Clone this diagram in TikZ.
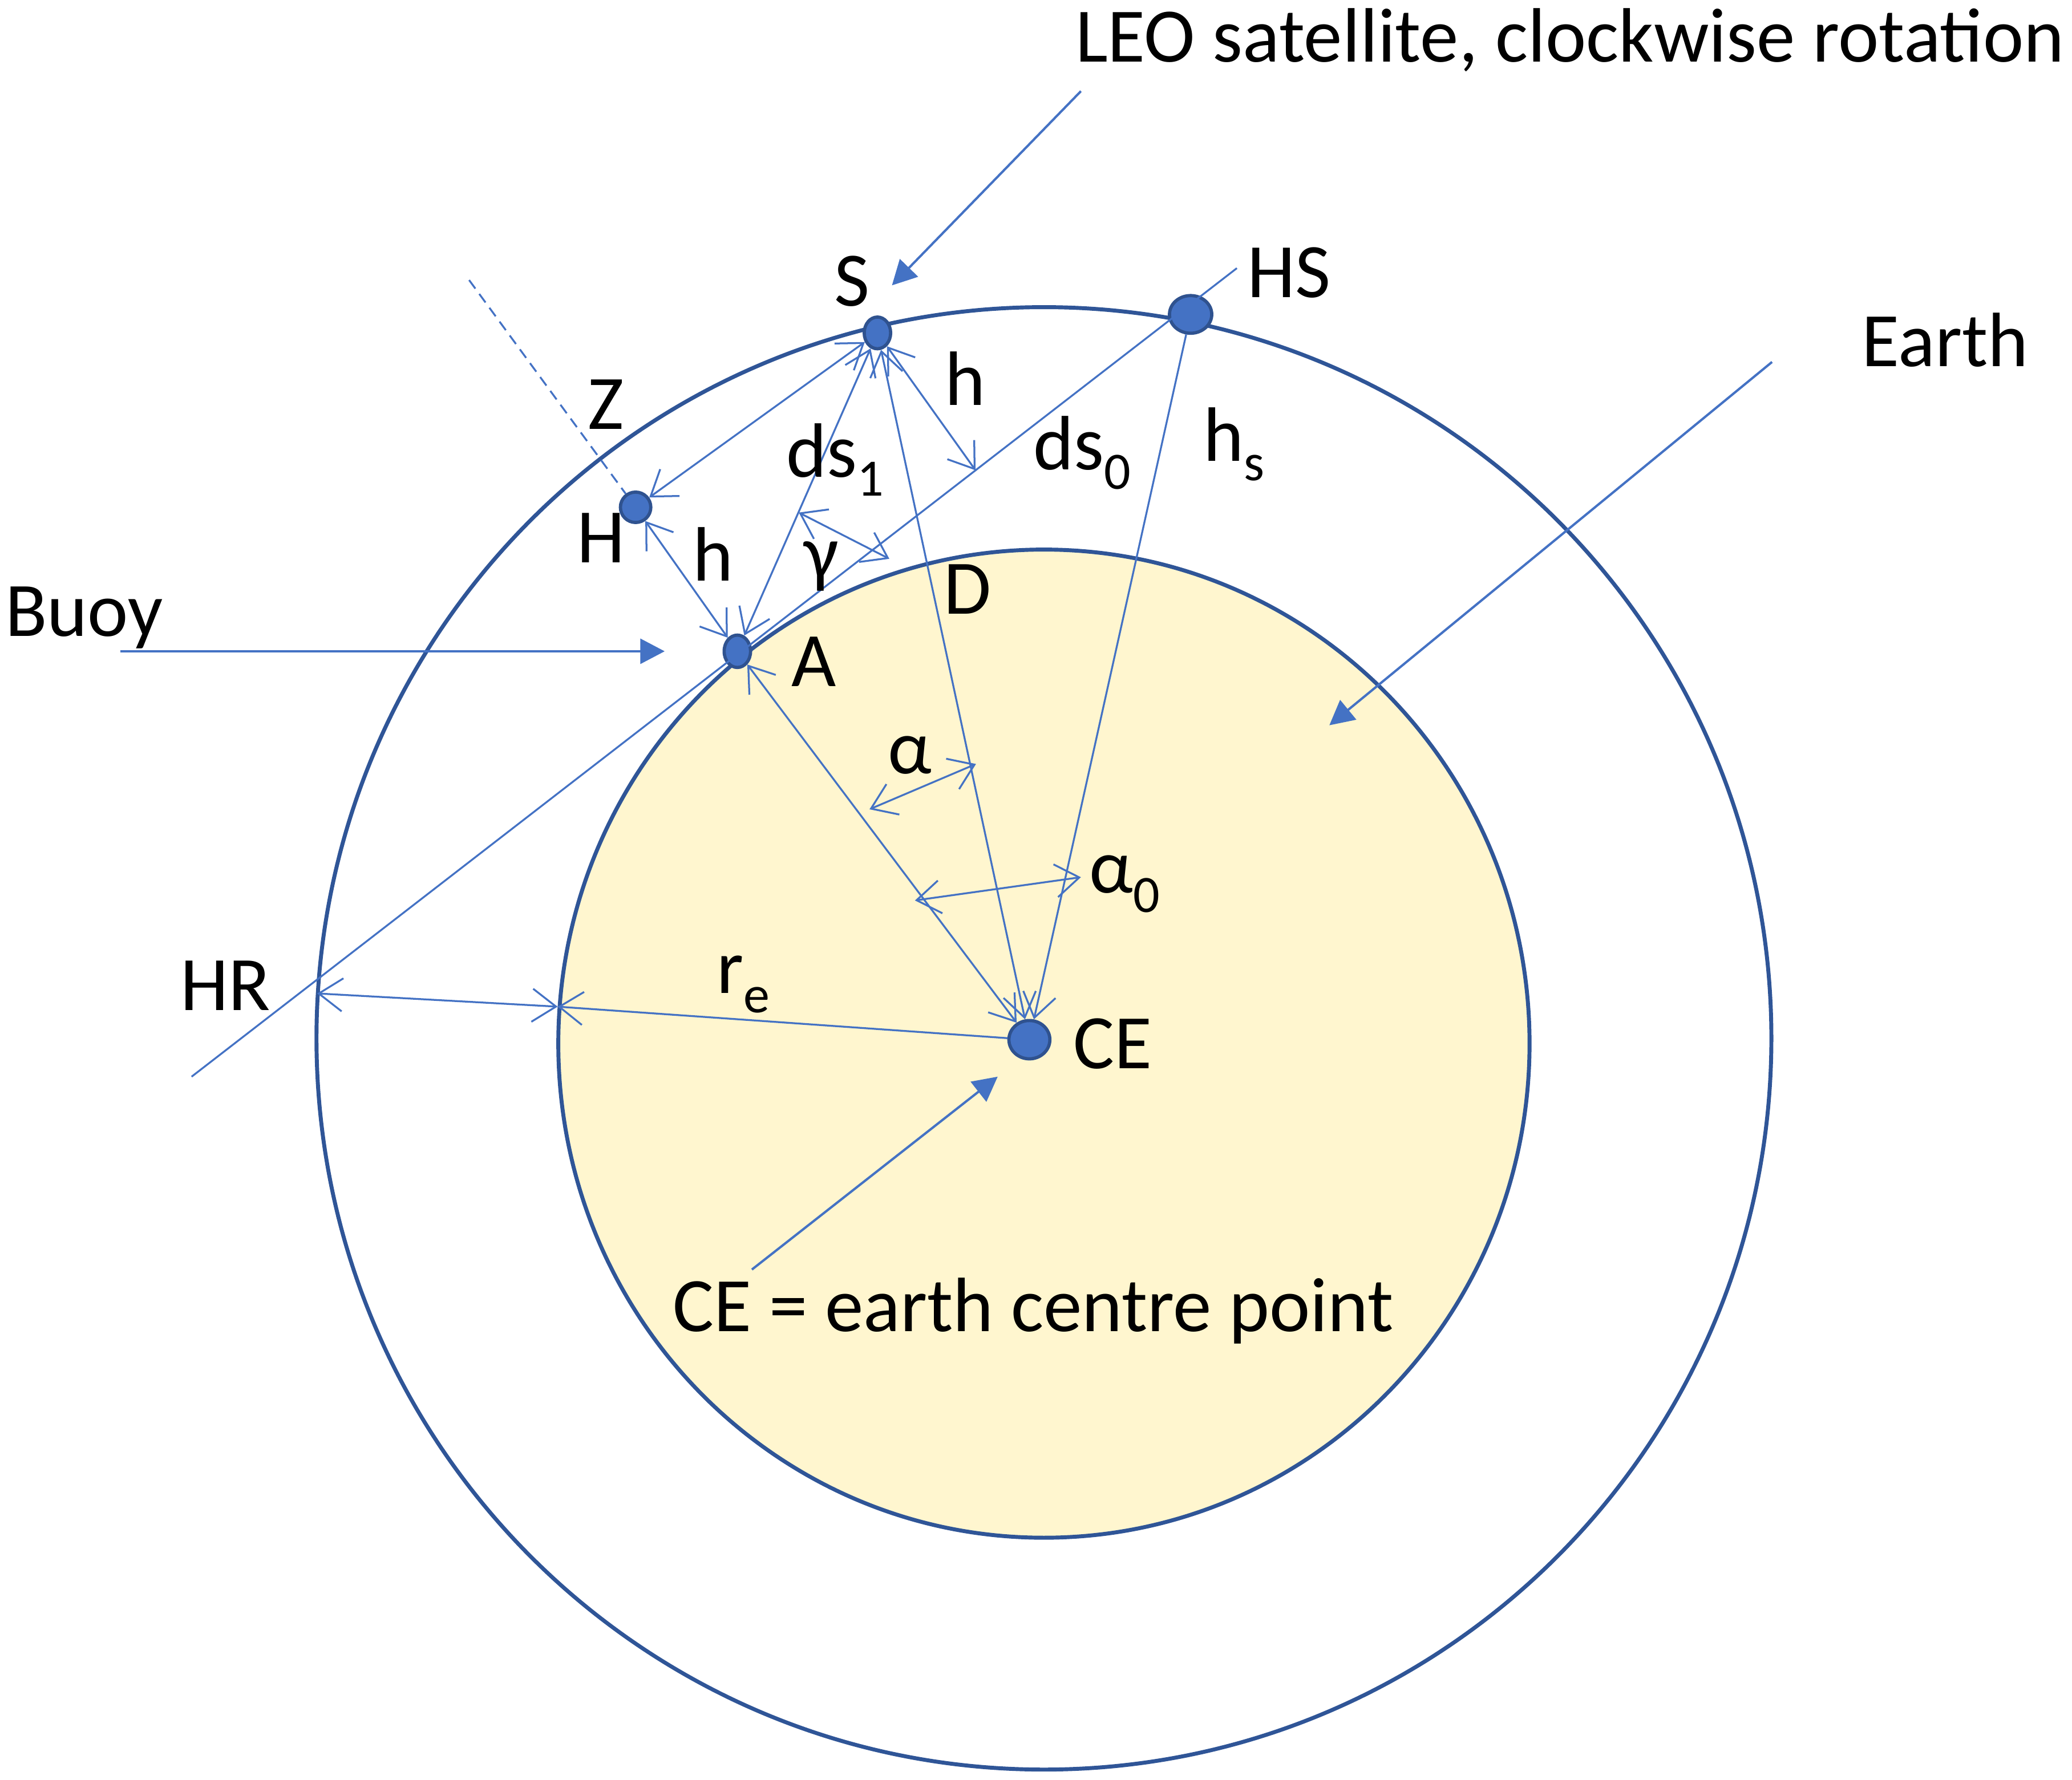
\documentclass[tikz,border=0pt]{standalone}
\usepackage{fontspec}
\setmainfont{Carlito}
\usetikzlibrary{arrows.meta,shapes.geometric,calc}

\definecolor{lineblue}{HTML}{4472C4}
\definecolor{ringblue}{HTML}{2F5597}
\definecolor{dotedge}{HTML}{2F528F}
\definecolor{earthfill}{HTML}{FFF6CF}

% lowered index as in the slide (ds1, hs, re, alpha0)
\newcommand{\lowidx}[1]{\raisebox{-0.25em}{\fontsize{11.3}{12}\selectfont #1}}

\def\txtsize{16.6}

\begin{document}
\begin{tikzpicture}[x=0.1mm,y=-0.1mm,
  >={Straight Barb[length=1.8mm,width=2.5mm]},
  guide/.style={draw=lineblue,line width=0.4pt},
  pointer/.style={draw=lineblue,line width=0.5pt,-{Triangle[length=1.85mm,width=1.9mm]}},
  ring/.style={draw=ringblue,line width=0.85pt},
  dot/.style={ellipse,fill=lineblue,draw=dotedge,line width=0.7pt,inner sep=0pt},
  lbl/.style={anchor=base,inner sep=0pt,font=\fontsize{\txtsize}{19}\selectfont}]
 \useasboundingbox (0,0) rectangle (1568,1347);
 % Earth and orbit
 \fill[earthfill] (790,790) circle[x radius=367.5,y radius=374];
 \draw[ring] (790,790) circle[x radius=367.5,y radius=374];
 \draw[ring] (790,786) circle[x radius=550.5,y radius=553.5];
 % Points
 \node[dot,minimum width=2mm,minimum height=2.4mm] (S) at (664,252) {};
 \node[dot,minimum width=3.2mm,minimum height=2.85mm] (HS) at (901,238) {};
 \node[dot,minimum width=2.3mm,minimum height=2.3mm] (H) at (481,384) {};
 \node[dot,minimum width=2mm,minimum height=2.45mm] (A) at (558,493) {};
 \node[dot,minimum width=3.1mm,minimum height=2.9mm] (CE) at (779,787) {};
 % Horizon line through the buoy
 \coordinate (hrEnd) at (145,815);
 \coordinate (hsEnd) at (936,203);
 \draw[guide] (hrEnd) -- (hsEnd);
 \coordinate (foot) at ($(hrEnd)!0.75!(hsEnd)$);
 % Zenith
 \coordinate (zenith) at (355,212);
 \draw[guide,dash pattern=on 0.8mm off 0.5mm] (zenith) -- (H);
 % Distances
 \foreach \a/\b in {H/S,H/A,A/S,S/foot,S/CE,A/CE}
  \draw[guide,<->] (\a) -- (\b);
 \draw[guide,->] (HS) -- (CE);
 % Angles
 \coordinate (gA) at (604.5,388);
 \coordinate (gB) at (673,423);
 \coordinate (aA) at (658,612.6);
 \coordinate (aB) at (738.6,578.3);
 \coordinate (aoA) at (692.4,681.6);
 \coordinate (aoB) at (818,664);
 \foreach \a/\b in {gA/gB,aA/aB,aoA/aoB}
  \draw[guide,<->] (\a) -- (\b);
 % Earth radius and height
 \coordinate (hrOut) at (240,752);
 \coordinate (reIn) at (422,762);
 \draw[guide,<->] (hrOut) -- (reIn);
 \draw[guide,->] (CE) -- (reIn);
 % Pointers
 \coordinate (buoyTail) at (91,493);
 \coordinate (buoyHead) at (503,493);
 \coordinate (leoTail) at (818,69);
 \coordinate (leoHead) at (675,216);
 \coordinate (earthTail) at (1341,274);
 \coordinate (earthHead) at (1006,549);
 \coordinate (ceTail) at (569,961);
 \coordinate (ceHead) at (755,815);
 \foreach \a/\b in {buoyTail/buoyHead,leoTail/leoHead,earthTail/earthHead,ceTail/ceHead}
  \draw[pointer] (\a) -- (\b);
 % Labels
 \foreach \n/\x/\y/\t in {
   lblLeo/1188/47/{LEO satellite, clockwise rotation},
   lblS/645/231.5/S,
   lblHS/975.5/225/HS,
   lblEarth/1472/277.5/Earth,
   lblZ/458.4/324.7/Z,
   lblHup/730.5/306.6/h,
   lblDsOne/632/361/{ds\lowidx{1}},
   lblDsZero/819/355.6/{ds\lowidx{0}},
   lblHsat/934/349/{h\lowidx{s}},
   lblH/454.8/426/H,
   lblHlow/539.5/439.5/h,
   lblGamma/621.4/438/γ,
   lblD/732.3/464.6/D,
   lblBuoy/63.6/481.5/Buoy,
   lblA/615.8/519.5/A,
   lblAlpha/688.5/585.5/α,
   lblAlphaZero/851/676/{α\lowidx{0}},
   lblHR/170.5/765/HR,
   lblRe/562.5/752/{r\lowidx{e}},
   lblCE/842/809/CE,
   lblCEdef/782/1008/{CE = earth centre point}}
  \node[lbl] (\n) at (\x,\y) {\t};
\end{tikzpicture}
\end{document}
